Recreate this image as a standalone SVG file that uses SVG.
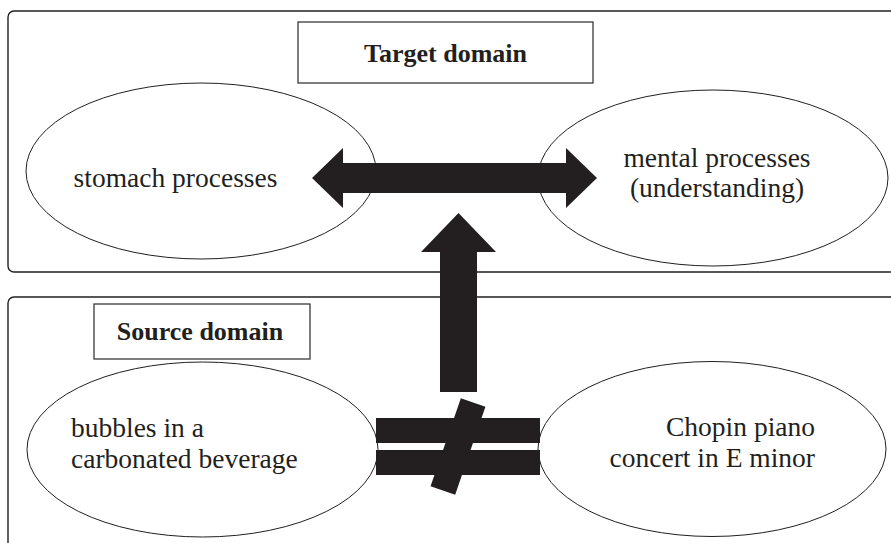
<svg xmlns="http://www.w3.org/2000/svg" width="891" height="543" viewBox="0 0 891 543">
  <style>
    .panel { fill: #ffffff; stroke: #231f20; stroke-width: 1.4; }
    .label-box { fill: #ffffff; stroke: #3a3a3a; stroke-width: 1.3; }
    .concept { fill: #ffffff; stroke: #231f20; stroke-width: 1; }
    .title { font-family: "Liberation Serif", "Times New Roman", serif; font-weight: bold; font-size: 26px; fill: #231f20; text-anchor: middle; }
    .txt { font-family: "Liberation Serif", "Times New Roman", serif; font-size: 27.5px; fill: #231f20; }
    .solid { fill: #231f20; stroke: none; }
  </style>

  <!-- Target domain panel (open to the right edge) -->
  <g id="target-domain">
    <rect class="panel" x="8" y="11" width="900" height="261" rx="6"/>
    <g id="target-label">
      <rect class="label-box" x="298" y="22" width="295" height="61"/>
      <text class="title" x="445.5" y="62">Target domain</text>
    </g>
  </g>

  <!-- Source domain panel (open to the right and bottom edges) -->
  <g id="source-domain">
    <rect class="panel" x="8" y="297" width="900" height="270" rx="6"/>
    <g id="source-label">
      <rect class="label-box" x="94" y="304" width="216" height="55"/>
      <text class="title" x="200" y="340">Source domain</text>
    </g>
  </g>

  <g id="stomach-processes">
    <ellipse class="concept" cx="201" cy="171" rx="175" ry="88"/>
    <text class="txt" x="175.5" y="187" text-anchor="middle">stomach processes</text>
  </g>

  <g id="mental-processes">
    <ellipse class="concept" cx="713" cy="178" rx="175" ry="88"/>
    <text class="txt" x="717" y="167" text-anchor="middle">mental processes</text>
    <text class="txt" x="717" y="197" text-anchor="middle">(understanding)</text>
  </g>

  <g id="bubbles">
    <ellipse class="concept" cx="202.5" cy="449.5" rx="175.5" ry="87.5"/>
    <text class="txt" x="71" y="437">bubbles in a</text>
    <text class="txt" x="71" y="468">carbonated beverage</text>
  </g>

  <g id="chopin">
    <ellipse class="concept" cx="712" cy="449" rx="174" ry="87.5"/>
    <text class="txt" x="815" y="436" text-anchor="end">Chopin piano</text>
    <text class="txt" x="815" y="467" text-anchor="end">concert in E minor</text>
  </g>

  <!-- Connectors -->
  <g id="connectors">
    <!-- two-way correspondence between the target concepts -->
    <path class="solid" d="M312,178 L343,148 L343,163 L566,163 L566,148 L597,178 L566,208 L566,193 L343,193 L343,208 Z"/>
    <!-- mapping from source to target -->
    <path class="solid" d="M458.5,213 L496,252 L477,252 L477,392 L440,392 L440,252 L421,252 Z"/>
    <!-- not-equal sign between the source concepts -->
    <g id="not-equal">
      <rect class="solid" x="376" y="418" width="164" height="25"/>
      <rect class="solid" x="376" y="450" width="164" height="25"/>
      <rect class="solid" x="-13" y="-46.5" width="26" height="93" transform="translate(458 446.5) rotate(19)"/>
    </g>
  </g>
</svg>
